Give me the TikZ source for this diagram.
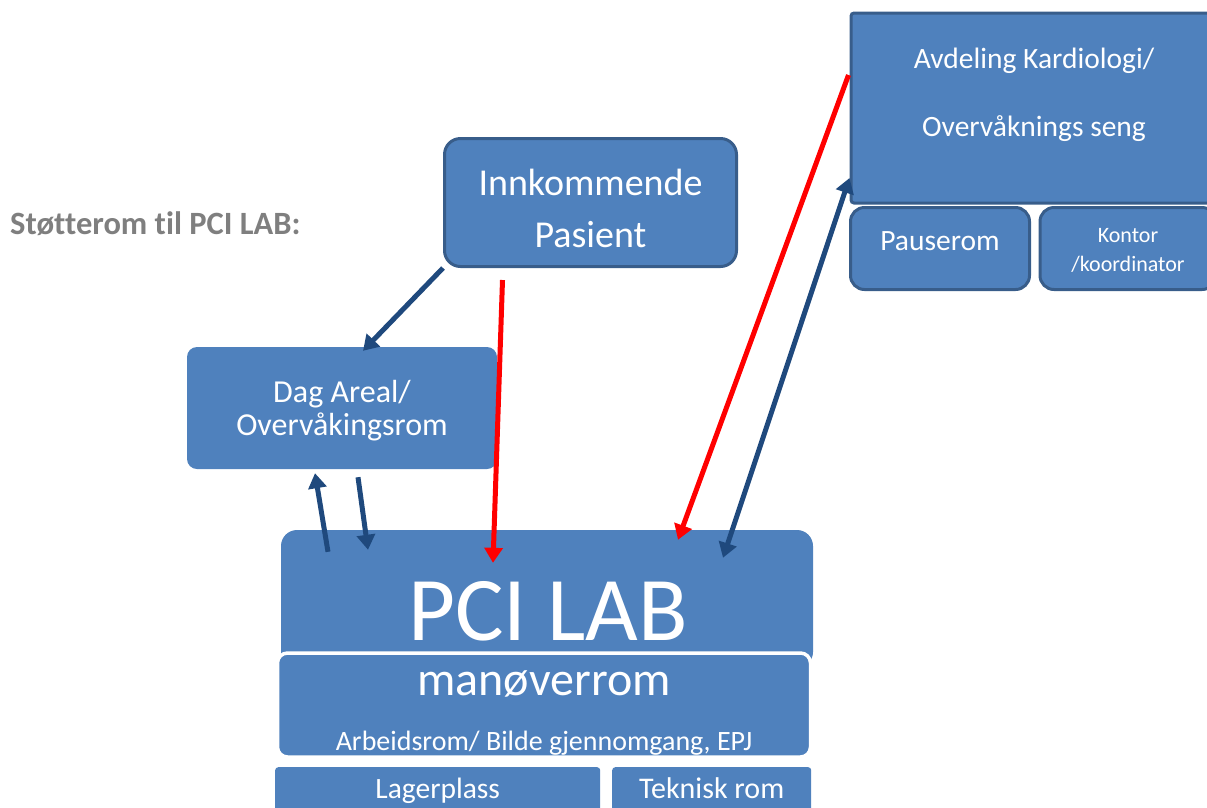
\documentclass[tikz,border=0pt]{standalone}
\usepackage{fontspec}
\setmainfont{Carlito}[Ligatures=NoCommon]
\usepackage{xcolor}
\usetikzlibrary{arrows.meta,calc,positioning}
\definecolor{boxfill}{HTML}{4F81BD}
\definecolor{boxline}{HTML}{385D8A}
\definecolor{arrblue}{HTML}{1F497D}
\definecolor{arrred}{HTML}{FF0000}
\definecolor{txtgray}{HTML}{7F7F7F}
\newcommand{\fsz}[2]{\fontsize{#1}{#2}\selectfont}

\begin{document}
\begin{tikzpicture}[x=1pt,y=-1pt,
		room/.style={fill=boxfill,text=white,inner sep=0pt,align=center},
		roomline/.style={room,draw=boxline,line width=3pt},
		label/.style={text=white,inner sep=0pt,anchor=base},
		block/.style={text=white,inner sep=0pt,align=center},
		bluearr/.style={draw=arrblue,line width=5pt,-{Triangle[length=15pt,width=18pt]}},
		redarr/.style={draw=arrred,line width=5pt,-{Triangle[length=15pt,width=18pt]}}]
		\useasboundingbox (0,0) rectangle (1207,807);
		% rooms
		\node[font=\bfseries\fsz{32.5}{32.5},text=txtgray,inner sep=0pt,anchor=base west] (title) at (10,234) {Støtterom til PCI LAB:};
		\node[roomline,rounded corners=16pt,minimum width=292pt,minimum height=128pt] (innk) at (590.5,202.5) {};
		\node[block,font=\fsz{38}{52}] (innktxt) at ([yshift=-6pt]innk.center) {Innkommende\\Pasient};
		\node[roomline,rounded corners=3pt,minimum width=366pt,minimum height=190pt] (kard) at (1034,108) {};
		\node[block,font=\fsz{29.5}{68}] (kardtxt) at (1034,95) {Avdeling Kardiologi/\\Overvåknings seng};
		\node[roomline,rounded corners=14pt,minimum width=179pt,minimum height=82pt] (pause) at (940,248.5) {};
		\node[label,font=\fsz{29.5}{30}] (pausetxt) at (940,250) {Pauserom};
		\node[roomline,rounded corners=14pt,minimum width=176pt,minimum height=82pt] (kontor) at (1128,248.5) {};
		\node[block,font=\fsz{22}{29}] (kontortxt) at (1128,250) {Kontor\\/koordinator};
		\node[room,rounded corners=10pt,minimum width=310pt,minimum height=122pt] (dag) at (342,408) {};
		\node[block,font=\fsz{32}{33}] (dagtxt) at ([yshift=-3pt]dag.center) {Dag Areal/\\Overvåkingsrom};
		% PCI LAB and the rooms below it
		\node[room,rounded corners=16pt,minimum width=532pt,minimum height=138pt] (pci) at (547,599) {};
		\node[label,font=\fsz{91}{91}] (pcitxt) at (548,640) {PCI LAB};
		\node[room,draw=white,line width=3.5pt,rounded corners=10pt,minimum width=533pt,minimum height=104pt] (man) at (544,705) {};
		\node[label,font=\fsz{48}{48}] (mantxt) at (544,695) {manøverrom};
		\node[label,font=\fsz{28}{28}] (arbtxt) at (544,750) {Arbeidsrom/ Bilde gjennomgang, EPJ};
		\node[room,rounded corners=3pt,minimum width=325pt,minimum height=50pt,anchor=north west] (lager) at (275,767) {};
		\node[label,font=\fsz{29.5}{30}] (lagertxt) at ($(lager.north)+(0,31)$) {Lagerplass};
		\node[room,rounded corners=3pt,minimum width=199pt,minimum height=50pt,anchor=north west] (tek) at (612,767) {};
		\node[label,font=\fsz{30}{30}] (tektxt) at ($(tek.north)+(0,31)$) {Teknisk rom};
		% arrows
		\draw[bluearr] (innk.south west) -- ([xshift=21pt,yshift=-4pt]dag.north);
		\draw[redarr] ([xshift=-88pt,yshift=-12pt]innk.south) -- ([xshift=-54pt,yshift=-33pt]pci.north);
		\draw[bluearr] ([xshift=-219pt,yshift=-22pt]pci.north) -- ([xshift=-27pt,yshift=-4pt]dag.south);
		\draw[bluearr] ([xshift=16pt,yshift=-8pt]dag.south) -- ([xshift=-179pt,yshift=-20pt]pci.north);
		\draw[redarr] ([xshift=-1pt,yshift=33pt]kard.west) -- ([xshift=131pt,yshift=-10pt]pci.north);
		\draw[bluearr,{Triangle[length=15pt,width=18pt]}-{Triangle[length=15pt,width=18pt]}] ([yshift=-70pt]kard.west) -- ([xshift=176pt,yshift=-28pt]pci.north);
\end{tikzpicture}
\end{document}
